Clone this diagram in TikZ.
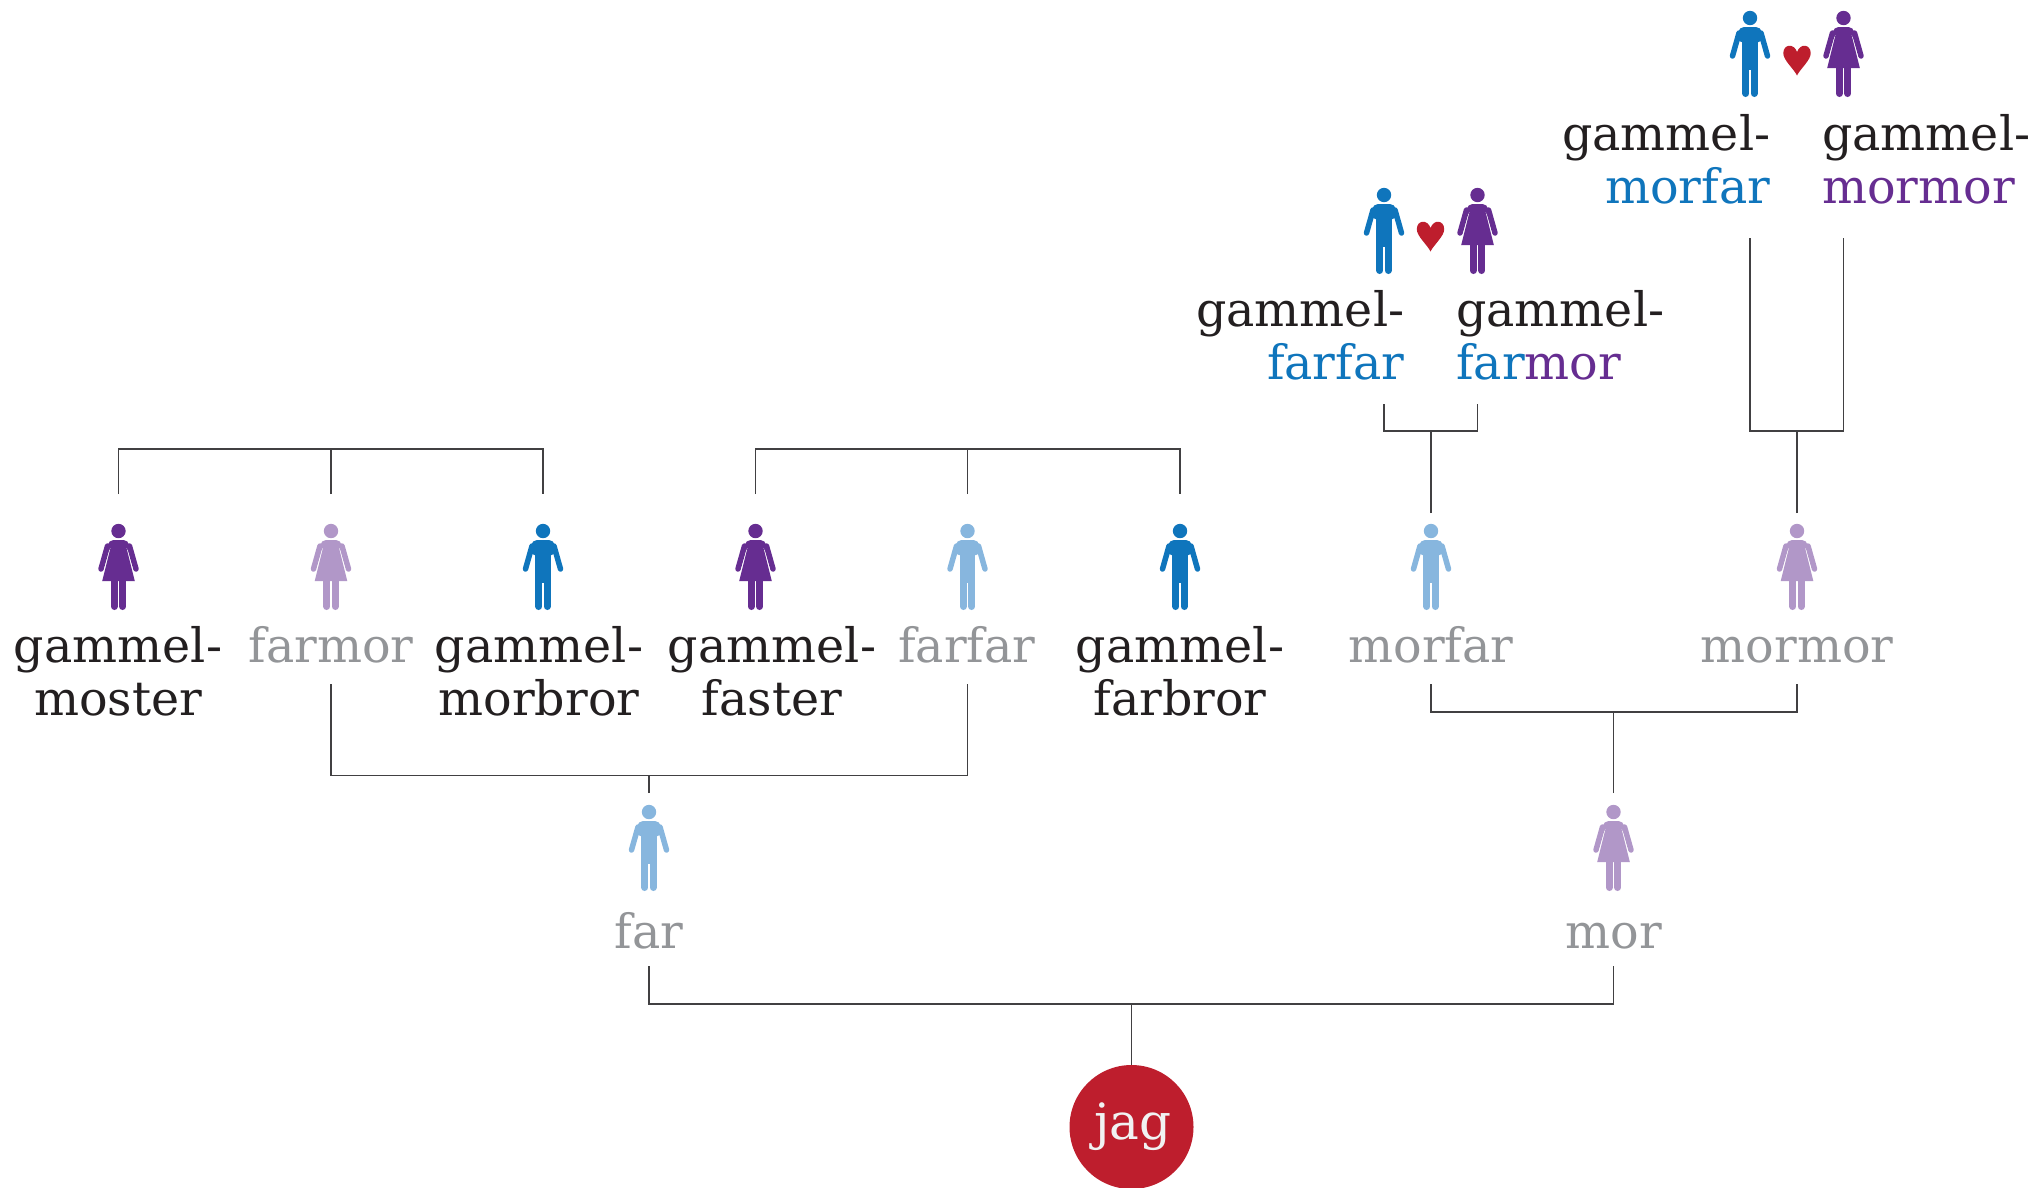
\documentclass[tikz,border=0pt]{standalone}
\usepackage{fontspec}
\setmainfont{DejaVu Serif}
\usetikzlibrary{calc, positioning}
\definecolor{ManBlue}{RGB}{15, 117, 188}
\definecolor{WomanPurple}{RGB}{102, 45, 145}
\definecolor{ManPale}{RGB}{135, 182, 222}
\definecolor{WomanPale}{RGB}{177, 151, 200}
\definecolor{HeartRed}{RGB}{190, 30, 45}
\definecolor{InkBlack}{RGB}{35, 31, 32}
\definecolor{LinkGrey}{RGB}{65, 64, 66}
\definecolor{DeadGrey}{RGB}{147, 149, 152}
\definecolor{JagWhite}{RGB}{241, 242, 242}
\tikzset{
    namelabel/.style={anchor=base, align=center, inner sep=0pt, font=\fontsize{47.5}{53}\selectfont, text=InkBlack},
    deadlabel/.style={namelabel, text=DeadGrey},
    linkline/.style={draw=LinkGrey, line width=1.45pt}
}
% figur: x, y (huvudets mitt), farg
\newcommand{\ManFig}[3]{
    \begin{scope}[shift={(#1,#2)}]
        \fill[#3] (0,0) circle (7.2);
        \fill[#3, rounded corners=5pt] (-13.5,24) -- (-11,9) -- (11,9) -- (13.5,24) -- cycle;
        \fill[#3] (-7.7,14) rectangle (7.7,52);
        \draw[#3, line width=5.5pt, line cap=round] (-17.5,38) -- (-11,15);
        \draw[#3, line width=5.5pt, line cap=round] (17.5,38) -- (11,15);
        \draw[#3, line width=7pt, line cap=round] (-4.2,50) -- (-4.2,75.5);
        \draw[#3, line width=7pt, line cap=round] (4.2,50) -- (4.2,75.5);
    \end{scope}
}
\newcommand{\WomanFig}[3]{
    \begin{scope}[shift={(#1,#2)}]
        \fill[#3] (0,0) circle (7.2);
        \fill[#3, rounded corners=5pt] (-11.5,20) -- (-10,9) -- (10,9) -- (11.5,20) -- cycle;
        \draw[#3, line width=5.5pt, line cap=round] (-17.5,38) -- (-11,15);
        \draw[#3, line width=5.5pt, line cap=round] (17.5,38) -- (11,15);
        \fill[white] (-8.3,17) -- (-7.3,17) -- (-12.5,38) -- (-14.3,38) -- cycle;
        \fill[white] (8.3,17) -- (7.3,17) -- (12.5,38) -- (14.3,38) -- cycle;
        \fill[#3] (-7.3,14) -- (7.3,14) -- (16.3,50) -- (-16.3,50) -- cycle;
        \draw[#3, line width=7pt, line cap=round] (-4.2,50) -- (-4.2,75.5);
        \draw[#3, line width=7pt, line cap=round] (4.2,50) -- (4.2,75.5);
    \end{scope}
}
\newcommand{\HeartFig}[2]{
    \fill[HeartRed, shift={(#1,#2)}] (0,15.5) .. controls (-3,9) and (-14,0) .. (-13.7,-7)
        .. controls (-13.5,-16) and (-3,-17) .. (0,-8)
        .. controls (3,-17) and (13.5,-16) .. (13.7,-7)
        .. controls (14,0) and (3,9) .. (0,15.5) -- cycle;
}
\begin{document}
\begin{tikzpicture}[x=1pt, y=-1pt]
    \useasboundingbox (0,0) rectangle (2035,1187);

    % Figurer
    \WomanFig{118.5}{531}{WomanPurple}
    \WomanFig{331}{531}{WomanPale}
    \ManFig{543}{531}{ManBlue}
    \WomanFig{755.5}{531}{WomanPurple}
    \ManFig{967.5}{531}{ManPale}
    \ManFig{1180}{531}{ManBlue}
    \ManFig{1431}{531}{ManPale}
    \WomanFig{1797}{531}{WomanPale}
    \ManFig{649}{812}{ManPale}
    \WomanFig{1613.5}{812}{WomanPale}
    \ManFig{1384}{195}{ManBlue}
    \WomanFig{1477.5}{195}{WomanPurple}
    \HeartFig{1430.5}{236}
    \ManFig{1750}{18}{ManBlue}
    \WomanFig{1843.5}{18}{WomanPurple}
    \HeartFig{1797}{60}

    % Namn
    \node[namelabel] (gmoster) at (118,715) {gammel-\\moster};
    \node[deadlabel] (farmor) at (331,662) {farmor};
    \node[namelabel] (gmorbror) at (539,715) {gammel-\\morbror};
    \node[namelabel] (gfaster) at (772,715) {gammel-\\faster};
    \node[deadlabel] (farfar) at (967,662) {farfar};
    \node[namelabel] (gfarbror) at (1180,715) {gammel-\\farbror};
    \node[deadlabel] (morfar) at (1431,662) {morfar};
    \node[deadlabel] (mormor) at (1797,662) {mormor};
    \node[deadlabel] (far) at (649,948) {far};
    \node[deadlabel] (mor) at (1614,948) {mor};
    \node[namelabel, align=right, anchor=base east] (gfarfar) at (1404.5,379) {gammel-\\\textcolor{ManBlue}{farfar}};
    \node[namelabel, align=left, anchor=base west] (gfarmor) at (1456,379) {gammel-\\\textcolor{ManBlue}{far}\textcolor{WomanPurple}{mor}};
    \node[namelabel, align=right, anchor=base east] (gmorfar) at (1770.5,203) {gammel-\\\textcolor{ManBlue}{morfar}};
    \node[namelabel, align=left, anchor=base west] (gmormor) at (1822,203) {gammel-\\\textcolor{WomanPurple}{mormor}};

    % Jag
    \node[circle, fill=HeartRed, minimum size=124pt, inner sep=0pt, text=JagWhite, font=\fontsize{50}{53}\selectfont] (jag) at (1131.5,1127) {\raisebox{1pt}{\hspace{3pt}jag}};

    % Fria andar
    \coordinate (mosterTop) at (118.5,494);
    \coordinate (farmorTop) at (331,494);
    \coordinate (morbrorTop) at (543,494);
    \coordinate (fasterTop) at (755.5,494);
    \coordinate (farfarTop) at (967.5,494);
    \coordinate (farbrorTop) at (1180,494);
    \coordinate (farmorFoot) at (331,684);
    \coordinate (farfarFoot) at (967.5,684);
    \coordinate (morfarFoot) at (1431,684);
    \coordinate (mormorFoot) at (1797,684);
    \coordinate (morfarTop) at (1431,513);
    \coordinate (mormorTop) at (1797,513);
    \coordinate (farTop) at (649,793);
    \coordinate (morTop) at (1613.5,793);
    \coordinate (farFoot) at (649,966);
    \coordinate (morFoot) at (1613.5,966);
    \coordinate (gfarfarFoot) at (1384,404);
    \coordinate (gfarmorFoot) at (1477.5,404);
    \coordinate (gmorfarFoot) at (1750,238);
    \coordinate (gmormorFoot) at (1843.5,238);

    % Linjer
    \draw[linkline] (mosterTop) -- (118.5,449) -- (543,449) -- (morbrorTop);
    \draw[linkline] (farmorTop) -- (331,449);
    \draw[linkline] (fasterTop) -- (755.5,449) -- (1180,449) -- (farbrorTop);
    \draw[linkline] (farfarTop) -- (967.5,449);
    \draw[linkline] (farmorFoot) -- (331,775.5) -- (967.5,775.5) -- (farfarFoot);
    \draw[linkline] (farTop) -- (649,775.5);
    \draw[linkline] (morfarFoot) -- (1431,712) -- (1797,712) -- (mormorFoot);
    \draw[linkline] (morTop) -- (1613.5,712);
    \draw[linkline] (farFoot) -- (649,1004) -- (1613.5,1004) -- (morFoot);
    \draw[linkline] (jag) -- (1131.5,1004);
    \draw[linkline] (gfarfarFoot) -- (1384,431) -- (1477.5,431) -- (gfarmorFoot);
    \draw[linkline] (morfarTop) -- (1431,431);
    \draw[linkline] (gmorfarFoot) -- (1750,431) -- (1843.5,431) -- (gmormorFoot);
    \draw[linkline] (mormorTop) -- (1797,431);
\end{tikzpicture}
\end{document}
